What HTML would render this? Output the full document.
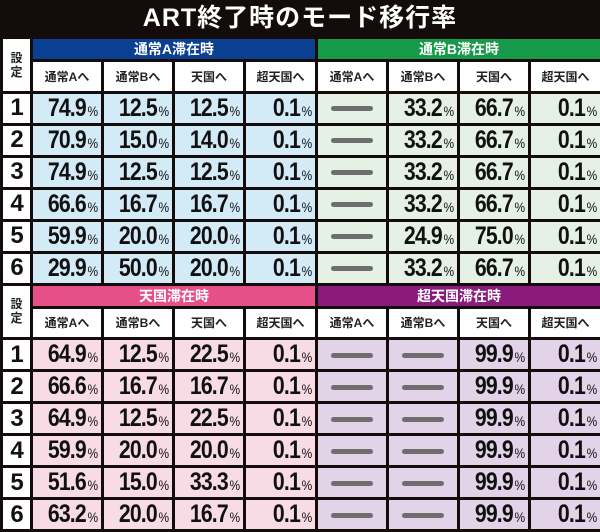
<!DOCTYPE html><html><head><meta charset="utf-8"><style>
body{margin:0;width:600px;height:531px;overflow:hidden;background:#140c0a;font-family:"Liberation Sans","Noto Sans CJK JP",sans-serif}
.t{height:36px;line-height:36px;text-align:center;color:#fff;font-weight:bold;font-size:25px;letter-spacing:1px}
table{border-collapse:collapse;table-layout:fixed;width:600px}
td{border:3px solid #140c0a;padding:0;text-align:center;overflow:hidden;white-space:nowrap}
tr.g td{height:18px;color:#fff;font-size:14px;font-weight:bold}
tr.s td{height:28.5px;background:#fff;font-size:12px;font-weight:bold;color:#222}
tr.d td{height:28.5px;font-size:25px;font-weight:bold;color:#111;text-align:right;padding-right:3px;letter-spacing:-1px}
tr.d td b{display:inline-block;transform:scaleX(.85);transform-origin:right center}
tr.d td.n{background:#fff;text-align:center;padding:0;font-size:24px}
tr.g td.k{background:#fff;font-size:12px;font-weight:bold;line-height:14px;color:#222}
small{font-size:14px;font-weight:normal;letter-spacing:0;margin-left:2px}
i{display:inline-block;width:42px;height:5px;border-radius:3px;background:#6e6e6e;vertical-align:middle}
td.x{text-align:center!important;padding:0!important}
</style></head><body>
<div class="t">ART終了時のモード移行率</div>
<table>
<colgroup><col style="width:30px"><col style="width:71px"><col style="width:71px"><col style="width:71px"><col style="width:72px"><col style="width:71px"><col style="width:71px"><col style="width:71px"><col style="width:72px"></colgroup>
<tr class="g"><td class="k" rowspan="2">設<br>定</td><td colspan="4" style="background:#0b3f92">通常A滞在時</td><td colspan="4" style="background:#17994a">通常B滞在時</td></tr>
<tr class="s"><td>通常Aへ</td><td>通常Bへ</td><td>天国へ</td><td>超天国へ</td><td>通常Aへ</td><td>通常Bへ</td><td>天国へ</td><td>超天国へ</td></tr>
<tr class="d"><td class="n">1</td><td style="background:#d3eaf7"><b>74.9<small>%</small></b></td><td style="background:#d3eaf7"><b>12.5<small>%</small></b></td><td style="background:#d3eaf7"><b>12.5<small>%</small></b></td><td style="background:#d3eaf7"><b>0.1<small>%</small></b></td><td class="x" style="background:#e5f1e4"><i></i></td><td style="background:#e5f1e4"><b>33.2<small>%</small></b></td><td style="background:#e5f1e4"><b>66.7<small>%</small></b></td><td style="background:#e5f1e4"><b>0.1<small>%</small></b></td></tr>
<tr class="d"><td class="n">2</td><td style="background:#d3eaf7"><b>70.9<small>%</small></b></td><td style="background:#d3eaf7"><b>15.0<small>%</small></b></td><td style="background:#d3eaf7"><b>14.0<small>%</small></b></td><td style="background:#d3eaf7"><b>0.1<small>%</small></b></td><td class="x" style="background:#e5f1e4"><i></i></td><td style="background:#e5f1e4"><b>33.2<small>%</small></b></td><td style="background:#e5f1e4"><b>66.7<small>%</small></b></td><td style="background:#e5f1e4"><b>0.1<small>%</small></b></td></tr>
<tr class="d"><td class="n">3</td><td style="background:#d3eaf7"><b>74.9<small>%</small></b></td><td style="background:#d3eaf7"><b>12.5<small>%</small></b></td><td style="background:#d3eaf7"><b>12.5<small>%</small></b></td><td style="background:#d3eaf7"><b>0.1<small>%</small></b></td><td class="x" style="background:#e5f1e4"><i></i></td><td style="background:#e5f1e4"><b>33.2<small>%</small></b></td><td style="background:#e5f1e4"><b>66.7<small>%</small></b></td><td style="background:#e5f1e4"><b>0.1<small>%</small></b></td></tr>
<tr class="d"><td class="n">4</td><td style="background:#d3eaf7"><b>66.6<small>%</small></b></td><td style="background:#d3eaf7"><b>16.7<small>%</small></b></td><td style="background:#d3eaf7"><b>16.7<small>%</small></b></td><td style="background:#d3eaf7"><b>0.1<small>%</small></b></td><td class="x" style="background:#e5f1e4"><i></i></td><td style="background:#e5f1e4"><b>33.2<small>%</small></b></td><td style="background:#e5f1e4"><b>66.7<small>%</small></b></td><td style="background:#e5f1e4"><b>0.1<small>%</small></b></td></tr>
<tr class="d"><td class="n">5</td><td style="background:#d3eaf7"><b>59.9<small>%</small></b></td><td style="background:#d3eaf7"><b>20.0<small>%</small></b></td><td style="background:#d3eaf7"><b>20.0<small>%</small></b></td><td style="background:#d3eaf7"><b>0.1<small>%</small></b></td><td class="x" style="background:#e5f1e4"><i></i></td><td style="background:#e5f1e4"><b>24.9<small>%</small></b></td><td style="background:#e5f1e4"><b>75.0<small>%</small></b></td><td style="background:#e5f1e4"><b>0.1<small>%</small></b></td></tr>
<tr class="d"><td class="n">6</td><td style="background:#d3eaf7"><b>29.9<small>%</small></b></td><td style="background:#d3eaf7"><b>50.0<small>%</small></b></td><td style="background:#d3eaf7"><b>20.0<small>%</small></b></td><td style="background:#d3eaf7"><b>0.1<small>%</small></b></td><td class="x" style="background:#e5f1e4"><i></i></td><td style="background:#e5f1e4"><b>33.2<small>%</small></b></td><td style="background:#e5f1e4"><b>66.7<small>%</small></b></td><td style="background:#e5f1e4"><b>0.1<small>%</small></b></td></tr>
<tr class="g"><td class="k" rowspan="2">設<br>定</td><td colspan="4" style="background:#e5508a">天国滞在時</td><td colspan="4" style="background:#8a1a7c">超天国滞在時</td></tr>
<tr class="s"><td>通常Aへ</td><td>通常Bへ</td><td>天国へ</td><td>超天国へ</td><td>通常Aへ</td><td>通常Bへ</td><td>天国へ</td><td>超天国へ</td></tr>
<tr class="d"><td class="n">1</td><td style="background:#f7dbe5"><b>64.9<small>%</small></b></td><td style="background:#f7dbe5"><b>12.5<small>%</small></b></td><td style="background:#f7dbe5"><b>22.5<small>%</small></b></td><td style="background:#f7dbe5"><b>0.1<small>%</small></b></td><td class="x" style="background:#e3d3e8"><i></i></td><td class="x" style="background:#e3d3e8"><i></i></td><td style="background:#e3d3e8"><b>99.9<small>%</small></b></td><td style="background:#e3d3e8"><b>0.1<small>%</small></b></td></tr>
<tr class="d"><td class="n">2</td><td style="background:#f7dbe5"><b>66.6<small>%</small></b></td><td style="background:#f7dbe5"><b>16.7<small>%</small></b></td><td style="background:#f7dbe5"><b>16.7<small>%</small></b></td><td style="background:#f7dbe5"><b>0.1<small>%</small></b></td><td class="x" style="background:#e3d3e8"><i></i></td><td class="x" style="background:#e3d3e8"><i></i></td><td style="background:#e3d3e8"><b>99.9<small>%</small></b></td><td style="background:#e3d3e8"><b>0.1<small>%</small></b></td></tr>
<tr class="d"><td class="n">3</td><td style="background:#f7dbe5"><b>64.9<small>%</small></b></td><td style="background:#f7dbe5"><b>12.5<small>%</small></b></td><td style="background:#f7dbe5"><b>22.5<small>%</small></b></td><td style="background:#f7dbe5"><b>0.1<small>%</small></b></td><td class="x" style="background:#e3d3e8"><i></i></td><td class="x" style="background:#e3d3e8"><i></i></td><td style="background:#e3d3e8"><b>99.9<small>%</small></b></td><td style="background:#e3d3e8"><b>0.1<small>%</small></b></td></tr>
<tr class="d"><td class="n">4</td><td style="background:#f7dbe5"><b>59.9<small>%</small></b></td><td style="background:#f7dbe5"><b>20.0<small>%</small></b></td><td style="background:#f7dbe5"><b>20.0<small>%</small></b></td><td style="background:#f7dbe5"><b>0.1<small>%</small></b></td><td class="x" style="background:#e3d3e8"><i></i></td><td class="x" style="background:#e3d3e8"><i></i></td><td style="background:#e3d3e8"><b>99.9<small>%</small></b></td><td style="background:#e3d3e8"><b>0.1<small>%</small></b></td></tr>
<tr class="d"><td class="n">5</td><td style="background:#f7dbe5"><b>51.6<small>%</small></b></td><td style="background:#f7dbe5"><b>15.0<small>%</small></b></td><td style="background:#f7dbe5"><b>33.3<small>%</small></b></td><td style="background:#f7dbe5"><b>0.1<small>%</small></b></td><td class="x" style="background:#e3d3e8"><i></i></td><td class="x" style="background:#e3d3e8"><i></i></td><td style="background:#e3d3e8"><b>99.9<small>%</small></b></td><td style="background:#e3d3e8"><b>0.1<small>%</small></b></td></tr>
<tr class="d"><td class="n">6</td><td style="background:#f7dbe5"><b>63.2<small>%</small></b></td><td style="background:#f7dbe5"><b>20.0<small>%</small></b></td><td style="background:#f7dbe5"><b>16.7<small>%</small></b></td><td style="background:#f7dbe5"><b>0.1<small>%</small></b></td><td class="x" style="background:#e3d3e8"><i></i></td><td class="x" style="background:#e3d3e8"><i></i></td><td style="background:#e3d3e8"><b>99.9<small>%</small></b></td><td style="background:#e3d3e8"><b>0.1<small>%</small></b></td></tr>
</table>
</body></html>
